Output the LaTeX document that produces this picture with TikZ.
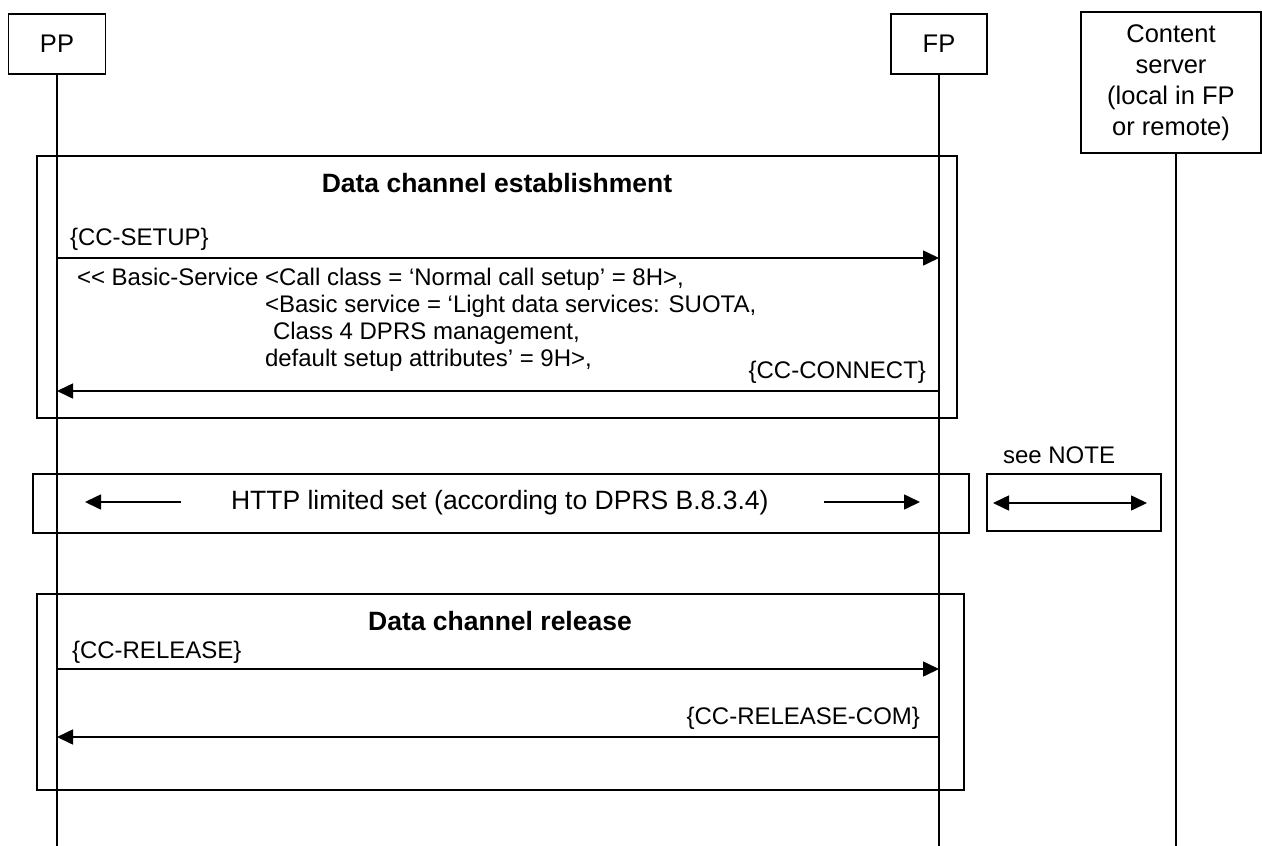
\documentclass[tikz,border=0pt]{standalone}
\usepackage{fontspec}
\setmainfont{Liberation Sans}
\usetikzlibrary{arrows.meta}
\begin{document}
\begin{tikzpicture}[x=1pt,y=-1pt,
  every node/.style={inner sep=0pt, outer sep=0pt},
  entity/.style={draw, line width=1.7pt, align=center, font=\fontsize{25.5}{31}\selectfont},
  life/.style={line width=1.7pt},
  frame/.style={draw, line width=1.8pt},
  tip/.tip={Triangle[length=16pt,width=15pt]},
  msg/.style={line width=1.6pt, -tip},
  dmsg/.style={line width=1.6pt, tip-tip},
  lbl/.style={font=\fontsize{24}{27}\selectfont},
  big/.style={font=\fontsize{26.5}{30}\selectfont},
  ttl/.style={font=\fontsize{26.5}{30}\selectfont\bfseries}]
\useasboundingbox (0,0) rectangle (1262,846);

% entities
\node[entity, minimum width=97pt, minimum height=60pt] (PP) at (57,44) {PP};
\node[entity, minimum width=96pt, minimum height=60pt] (FP) at (939,44) {FP};
\node[entity, minimum width=180pt, minimum height=141pt] (CS) at (1171,82.5) {Content\\server\\(local in FP\\or remote)};

% lifelines
\coordinate (ppE) at (PP.south |- 0,846);
\coordinate (fpE) at (FP.south |- 0,846);
\coordinate (csT) at ([xshift=5pt]CS.south);
\coordinate (csE) at (csT |- 0,846);
\draw[life] (PP.south) -- (ppE);
\draw[life] (FP.south) -- (fpE);
\draw[life] (csT) -- (csE);

% frames
\draw[frame] (37,156) rectangle (957,418);
\draw[frame] (33,474) rectangle (969,533);
\draw[frame] (987,474) rectangle (1161,531);
\draw[frame] (37,594) rectangle (964,790);

% data channel establishment
\node[ttl, anchor=base] (t1) at (497,192) {Data channel establishment};
\node[lbl, anchor=base west] (setupL) at (70,245) {\{CC-SETUP\}};
\coordinate (a1) at (PP.south |- 0,258);
\coordinate (b1) at (FP.south |- 0,258);
\draw[msg] (a1) -- (b1);
\node[lbl, anchor=base west] (l1) at (77,285) {<{}< Basic-Service <Call class = ‘Normal call setup’ = 8H>,};
\node[lbl, anchor=base west] (l2) at (265,312) {<Basic service = ‘Light data services: SUOTA,};
\node[lbl, anchor=base west] (l3) at (273,339) {Class 4 DPRS management,};
\node[lbl, anchor=base west] (l4) at (265,366) {default setup attributes’ = 9H>,};
\node[lbl, anchor=base east] (connL) at (926,378) {\{CC-CONNECT\}};
\coordinate (a2) at (FP.south |- 0,391);
\coordinate (b2) at (PP.south |- 0,391);
\draw[msg] (a2) -- (b2);

% HTTP
\node[big, anchor=base west] (http) at (231,509) {HTTP limited set (according to DPRS B.8.3.4)};
\coordinate (h1) at (181,502);
\coordinate (h2) at (85,502);
\coordinate (h3) at (824,502);
\coordinate (h4) at (920,502);
\draw[msg] (h1) -- (h2);
\draw[msg] (h3) -- (h4);
\node[lbl, anchor=base west] (note) at (1003,463) {see NOTE};
\coordinate (n1) at (993,503);
\coordinate (n2) at (1147,503);
\draw[dmsg] (n1) -- (n2);

% data channel release
\node[ttl, anchor=base] (t2) at (500,630) {Data channel release};
\node[lbl, anchor=base west] (relL) at (72,658) {\{CC-RELEASE\}};
\coordinate (a3) at (PP.south |- 0,669);
\coordinate (b3) at (FP.south |- 0,669);
\draw[msg] (a3) -- (b3);
\node[lbl, anchor=base east] (relcL) at (920,724) {\{CC-RELEASE-COM\}};
\coordinate (a4) at (FP.south |- 0,737);
\coordinate (b4) at (PP.south |- 0,737);
\draw[msg] (a4) -- (b4);
\end{tikzpicture}
\end{document}
